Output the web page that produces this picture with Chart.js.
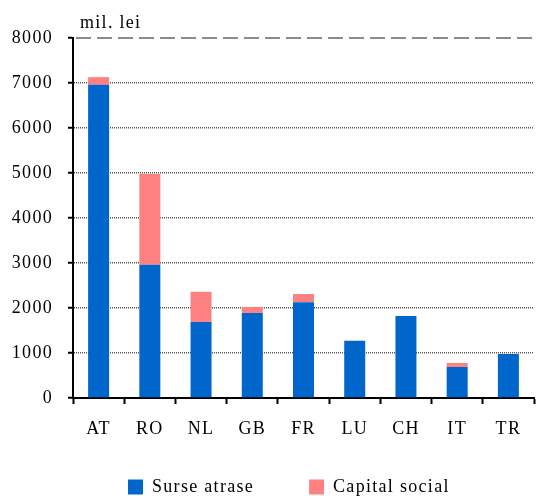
<!DOCTYPE html>
<html>
<head>
<meta charset="utf-8">
<script src="https://cdn.jsdelivr.net/npm/chart.js@4"></script>
<style>
  body { margin: 0; background: #fff; }
  #wrap { width: 540px; height: 496px; }
</style>
</head>
<body>
<div id="wrap"><canvas id="investments-chart"></canvas></div>
<script>
const countries = ["AT", "RO", "NL", "GB", "FR", "LU", "CH", "IT", "TR"];
const surseAtrase = [6960, 2960, 1690, 1890, 2130, 1270, 1820, 690, 980];
const capitalSocial = [170, 2020, 670, 130, 180, 0, 0, 90, 0];
const yMin = 0;
const yMax = 8000;
const yStep = 1000;
const unitLabel = "mil. lei";

const serif = "'Liberation Serif', 'Times New Roman', serif";

// slightly spaced-out lettering for all canvas text
const letterSpacing = {
  id: "letterSpacing",
  beforeUpdate(chart) {
    chart.ctx.letterSpacing = "1.3px";
  },
  beforeDraw(chart) {
    chart.ctx.letterSpacing = "1.3px";
  },
};

// dashed line along the top of the value axis plus the unit caption above it
const topLineAndUnit = {
  id: "topLineAndUnit",
  afterDraw(chart) {
    const { ctx, chartArea, scales } = chart;
    const y = scales.y.getPixelForValue(yMax);
    ctx.save();
    ctx.strokeStyle = "#8c8c8c";
    ctx.lineWidth = 2;
    ctx.setLineDash([15, 6]);
    ctx.beginPath();
    ctx.moveTo(chartArea.left + 3, y);
    ctx.lineTo(chartArea.right, y);
    ctx.stroke();
    ctx.setLineDash([]);
    ctx.fillStyle = "#000";
    ctx.font = "18px " + serif;
    ctx.textBaseline = "alphabetic";
    ctx.fillText(unitLabel, chartArea.left + 7, y - 10);
    ctx.restore();
  },
};

const ctx = document.getElementById("investments-chart").getContext("2d");

new Chart(ctx, {
  type: "bar",
  data: {
    labels: countries,
    datasets: [
      {
        label: "Surse atrase",
        data: surseAtrase,
        backgroundColor: "#0066cc",
        borderWidth: 0,
      },
      {
        label: "Capital social",
        data: capitalSocial,
        backgroundColor: "#ff8080",
        borderWidth: 0,
      },
    ],
  },
  options: {
    responsive: true,
    maintainAspectRatio: false,
    animation: false,
    datasets: {
      bar: { barPercentage: 0.41, categoryPercentage: 1 },
    },
    layout: { padding: { left: 0, right: 6, top: 38, bottom: 0 } },
    scales: {
      x: {
        stacked: true,
        afterFit(scale) {
          scale.height = 25;
        },
        grid: {
          offset: true,
          drawOnChartArea: false,
          drawTicks: true,
          tickLength: 6,
          tickColor: "#000",
          tickWidth: 2,
          tickBorderDash: [],
        },
        border: { display: true, color: "#000", width: 2 },
        ticks: {
          color: "#000",
          mirror: true,
          padding: -42,
          font: { family: serif, size: 18 },
        },
      },
      y: {
        stacked: true,
        min: yMin,
        max: yMax,
        afterFit(scale) {
          scale.width = 73;
        },
        grid: {
          color: (c) =>
            c.tick && (c.tick.value === yMax || c.tick.value === yMin)
              ? "rgba(0,0,0,0)"
              : "#555",
          lineWidth: 1.5,
          tickLength: 5,
          tickColor: "#000",
          tickWidth: 2,
          tickBorderDash: [],
        },
        border: { display: true, color: "#000", width: 2, dash: [1, 1] },
        ticks: {
          stepSize: yStep,
          color: "#000",
          padding: 15,
          font: { family: serif, size: 18 },
          callback: (value) => String(value),
        },
      },
    },
    plugins: {
      legend: {
        position: "bottom",
        fullSize: false,
        align: "start",
        maxHeight: 73,
        labels: {
          color: "#000",
          boxWidth: 15,
          boxHeight: 15,
          padding: 55,
          font: { family: serif, size: 18 },
        },
      },
      tooltip: { enabled: false },
    },
  },
  plugins: [letterSpacing, topLineAndUnit],
});
</script>
</body>
</html>
